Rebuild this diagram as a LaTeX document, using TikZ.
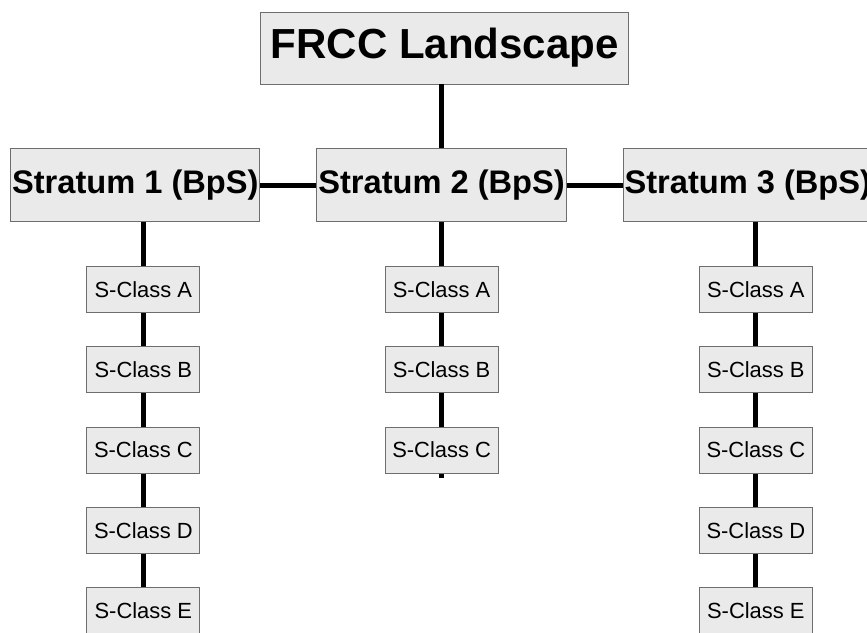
\documentclass[tikz,border=0pt]{standalone}
\usepackage{fontspec}
\setmainfont{Liberation Sans}
\usepackage{xcolor}
\usetikzlibrary{positioning}
\definecolor{boxfill}{HTML}{EAEAEA}
\definecolor{boxline}{HTML}{6E6E6E}

\begin{document}
\begin{tikzpicture}[every node/.style={inner sep=1pt},
    link/.style={line width=3.5pt,black},
    landscape/.style={draw=boxline,fill=boxfill,line width=0.7pt,minimum width=9.2cm,minimum height=1.8cm,font=\fontsize{29.9}{34}\selectfont\bfseries},
    stratum/.style={draw=boxline,fill=boxfill,line width=0.7pt,minimum width=6.2cm,minimum height=1.82cm,font=\fontsize{23.2}{27}\selectfont\bfseries},
    sclass/.style={draw=boxline,fill=boxfill,line width=0.7pt,minimum width=2.82cm,minimum height=1.15cm,font=\fontsize{15.6}{18}\selectfont}]
    \useasboundingbox (0,0) rectangle (21.675,-15.825);
    \fill[white] (0,0) rectangle (21.675,-15.825);

    \node[landscape] (top) at (11.12,-1.2) {FRCC Landscape};
    \node[stratum,below=1.6cm of top,xshift=-0.08cm] (s2) {Stratum 2 (BpS)};
    \node[stratum,left=1.4cm of s2] (s1) {Stratum 1 (BpS)};
    \node[stratum,right=1.4cm of s2] (s3) {Stratum 3 (BpS)};

    % first stratum
    \node[sclass,below=1.1cm of s1,xshift=0.2cm] (s1a) {S-Class A};
    \node[sclass,below=0.83cm of s1a] (s1b) {S-Class B};
    \node[sclass,below=0.83cm of s1b] (s1c) {S-Class C};
    \node[sclass,below=0.83cm of s1c] (s1d) {S-Class D};
    \node[sclass,below=0.83cm of s1d] (s1e) {S-Class E};

    % second stratum
    \node[sclass,below=1.1cm of s2] (s2a) {S-Class A};
    \node[sclass,below=0.83cm of s2a] (s2b) {S-Class B};
    \node[sclass,below=0.83cm of s2b] (s2c) {S-Class C};
    \coordinate[below=0.1cm of s2c] (s2end);

    % third stratum
    \node[sclass,below=1.1cm of s3,xshift=0.2cm] (s3a) {S-Class A};
    \node[sclass,below=0.83cm of s3a] (s3b) {S-Class B};
    \node[sclass,below=0.83cm of s3b] (s3c) {S-Class C};
    \node[sclass,below=0.83cm of s3c] (s3d) {S-Class D};
    \node[sclass,below=0.83cm of s3d] (s3e) {S-Class E};

    \draw[link] (s2.north) -- (s2.north |- top.south);
    \draw[link] (s1) -- (s2);
    \draw[link] (s2) -- (s3);
    \draw[link] (s1a.north) -- (s1a.north |- s1.south) (s1a) -- (s1b) (s1b) -- (s1c) (s1c) -- (s1d) (s1d) -- (s1e);
    \draw[link] (s2) -- (s2a) (s2a) -- (s2b) (s2b) -- (s2c) (s2c.south) -- (s2end);
    \draw[link] (s3a.north) -- (s3a.north |- s3.south) (s3a) -- (s3b) (s3b) -- (s3c) (s3c) -- (s3d) (s3d) -- (s3e);
  \end{tikzpicture}
\end{document}
